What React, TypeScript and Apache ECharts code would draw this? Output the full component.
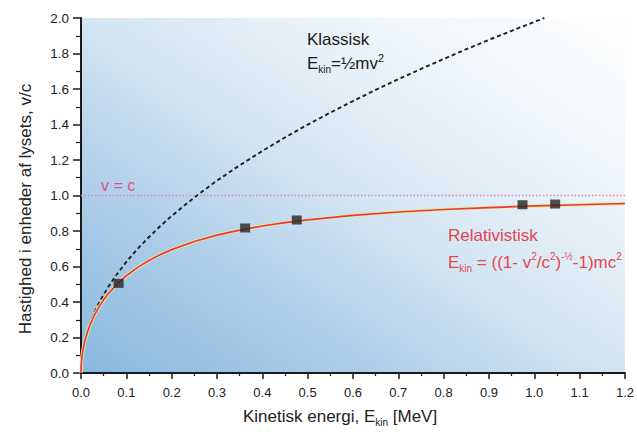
import React, { useEffect, useRef } from "react";
import * as echarts from "echarts";

// Relativistic curve
const relE = [0, 0.0005, 0.001, 0.002, 0.003, 0.005, 0.0075, 0.01, 0.015, 0.02, 0.03, 0.04, 0.05, 0.06, 0.075, 0.1, 0.125, 0.15, 0.175, 0.2, 0.25, 0.3, 0.35, 0.4, 0.45, 0.5, 0.6, 0.7, 0.8, 0.9, 1.0, 1.1, 1.2];
const relV = [0, 0.044, 0.062, 0.088, 0.108, 0.139, 0.17, 0.195, 0.237, 0.272, 0.328, 0.374, 0.413, 0.446, 0.489, 0.548, 0.595, 0.634, 0.667, 0.695, 0.741, 0.777, 0.805, 0.828, 0.847, 0.863, 0.888, 0.907, 0.921, 0.932, 0.941, 0.948, 0.955];

// Classical curve
const clsE = [0, 0.0005, 0.001, 0.002, 0.003, 0.005, 0.0075, 0.01, 0.015, 0.02, 0.03, 0.04, 0.05, 0.06, 0.075, 0.1, 0.125, 0.15, 0.175, 0.2, 0.25, 0.3, 0.35, 0.4, 0.45, 0.5, 0.55, 0.6, 0.65, 0.7, 0.75, 0.8, 0.85, 0.9, 0.95, 1.0, 1.022];
const clsV = [0, 0.044, 0.063, 0.088, 0.108, 0.14, 0.171, 0.198, 0.242, 0.28, 0.343, 0.396, 0.442, 0.485, 0.542, 0.626, 0.7, 0.766, 0.828, 0.885, 0.989, 1.084, 1.17, 1.251, 1.327, 1.399, 1.467, 1.532, 1.595, 1.655, 1.713, 1.769, 1.824, 1.877, 1.928, 1.978, 2.0];

// Measured points
const ptE = [0.083, 0.362, 0.476, 0.974, 1.046];
const ptV = [0.505, 0.817, 0.862, 0.948, 0.952];

// v = c reference line
const lightE = [0, 1.2];
const lightV = [1.0, 1.0];

const xTicks = { min: 0, max: 1.2, interval: 0.1 };
const yTicks = { min: 0, max: 2.0, interval: 0.2 };

const FONT = "'Liberation Sans', Arial, sans-serif";

export default function App() {
  const ref = useRef<HTMLDivElement>(null);
  useEffect(() => {
    if (!ref.current) return;
    const chart = echarts.init(ref.current, null, { renderer: "svg" });
    const zip = (a: number[], b: number[]) => a.map((v, i) => [v, b[i]]);
    chart.setOption({
      animation: false,
      backgroundColor: "#ffffff",
      textStyle: { fontFamily: FONT },
      grid: {
        left: 81,
        right: 9,
        top: 18,
        bottom: 59,
        show: true,
        borderWidth: 0,
        backgroundColor: new echarts.graphic.LinearGradient(0, 1, 1, 0, [
          { offset: 0, color: "#88b9df" },
          { offset: 0.25, color: "#abcce8" },
          { offset: 0.5, color: "#d3e5f3" },
          { offset: 0.75, color: "#eef5fa" },
          { offset: 1, color: "#ffffff" },
        ]),
      },
      xAxis: {
        type: "value",
        min: xTicks.min,
        max: xTicks.max,
        interval: xTicks.interval,
        axisLine: { onZero: false, lineStyle: { color: "#1a1a1a", width: 2 } },
        axisTick: { length: 6, lineStyle: { color: "#1a1a1a", width: 1.5 } },
        minorTick: { show: true, splitNumber: 2, length: 3, lineStyle: { color: "#1a1a1a", width: 1.2 } },
        splitLine: { show: false },
        axisLabel: {
          color: "#222",
          fontSize: 13,
          margin: 13,
          formatter: (v: number) => v.toFixed(1),
        },
      },
      yAxis: {
        type: "value",
        min: yTicks.min,
        max: yTicks.max,
        interval: yTicks.interval,
        axisLine: { show: true, onZero: false, lineStyle: { color: "#1a1a1a", width: 2 } },
        axisTick: { show: true, length: 8, lineStyle: { color: "#1a1a1a", width: 1.5 } },
        minorTick: { show: true, splitNumber: 2, length: 5, lineStyle: { color: "#1a1a1a", width: 1.2 } },
        splitLine: { show: false },
        axisLabel: {
          color: "#222",
          fontSize: 13.5,
          margin: 12,
          formatter: (v: number) => v.toFixed(1),
        },
      },
      series: [
        {
          name: "v=c",
          type: "line",
          data: zip(lightE, lightV),
          symbol: "none",
          lineStyle: { color: "#e583ab", width: 1.4, type: [1.5, 2] },
          z: 1,
        },
        {
          name: "Klassisk",
          type: "line",
          data: zip(clsE, clsV),
          symbol: "none",
          lineStyle: { color: "#1e1e1e", width: 1.9, type: [4, 3] },
          z: 2,
        },
        {
          name: "Relativistisk glow",
          type: "line",
          data: zip(relE, relV),
          symbol: "none",
          lineStyle: { color: "#e9ec98", width: 3.4 },
          z: 3,
        },
        {
          name: "Relativistisk",
          type: "line",
          data: zip(relE, relV),
          symbol: "none",
          lineStyle: { color: "#e6374a", width: 1.7 },
          z: 4,
        },
        {
          name: "Målinger",
          type: "scatter",
          data: zip(ptE, ptV),
          symbol: "rect",
          symbolSize: [10, 9],
          itemStyle: { color: "#262626" },
          z: 5,
        },
      ],
      graphic: [
        {
          type: "text",
          x: 25,
          y: 209,
          rotation: Math.PI / 2,
          style: {
            text: "Hastighed i enheder af lysets, v/c",
            fontSize: 17,
            fontFamily: FONT,
            fill: "#222",
            align: "center",
            verticalAlign: "middle",
          },
        },
        {
          type: "text",
          x: 243,
          y: 416,
          style: {
            text: "Kinetisk energi, E{sub|kin} [MeV]",
            fontSize: 17,
            fontFamily: FONT,
            fill: "#222",
            align: "left",
            verticalAlign: "middle",
            rich: {
              sub: { fontSize: 10, fontFamily: FONT, fill: "#222", verticalAlign: "bottom", lineHeight: 22 },
            },
          },
        },
        {
          type: "text",
          x: 101,
          y: 185,
          style: {
            text: "v = c",
            fontSize: 16,
            fontFamily: FONT,
            fill: "#d9558a",
            align: "left",
            verticalAlign: "middle",
          },
        },
        {
          type: "text",
          x: 307,
          y: 39,
          style: {
            text: "Klassisk",
            fontSize: 17,
            fontFamily: FONT,
            fill: "#1a1a1a",
            align: "left",
            verticalAlign: "middle",
          },
        },
        {
          type: "text",
          x: 307,
          y: 63,
          style: {
            text: "E{sub|kin}=½mv{sup|2}",
            fontSize: 17,
            fontFamily: FONT,
            fill: "#1a1a1a",
            align: "left",
            verticalAlign: "middle",
            lineHeight: 22,
            rich: {
              sub: { fontSize: 10, fontFamily: FONT, fill: "#1a1a1a", verticalAlign: "bottom", lineHeight: 22 },
              sup: { fontSize: 11, fontFamily: FONT, fill: "#1a1a1a", verticalAlign: "top", lineHeight: 22 },
            },
          },
        },
        {
          type: "text",
          x: 448,
          y: 235,
          style: {
            text: "Relativistisk",
            fontSize: 17,
            fontFamily: FONT,
            fill: "#e5454f",
            align: "left",
            verticalAlign: "middle",
          },
        },
        {
          type: "text",
          x: 448,
          y: 262,
          style: {
            text: "E{sub|kin} = ((1- v{sup|2}/c{sup|2}){sup|-½}-1)mc{sup|2}",
            fontSize: 17,
            fontFamily: FONT,
            fill: "#e5454f",
            align: "left",
            verticalAlign: "middle",
            lineHeight: 22,
            rich: {
              sub: { fontSize: 10, fontFamily: FONT, fill: "#e5454f", verticalAlign: "bottom", lineHeight: 22 },
              sup: { fontSize: 10, fontFamily: FONT, fill: "#e5454f", verticalAlign: "top", lineHeight: 22 },
            },
          },
        },
      ],
    });
    return () => chart.dispose();
  }, []);
  return (
    <div
      ref={ref}
      style={{ position: "fixed", left: 0, top: 0, width: 637, height: 432 }}
    />
  );
}
